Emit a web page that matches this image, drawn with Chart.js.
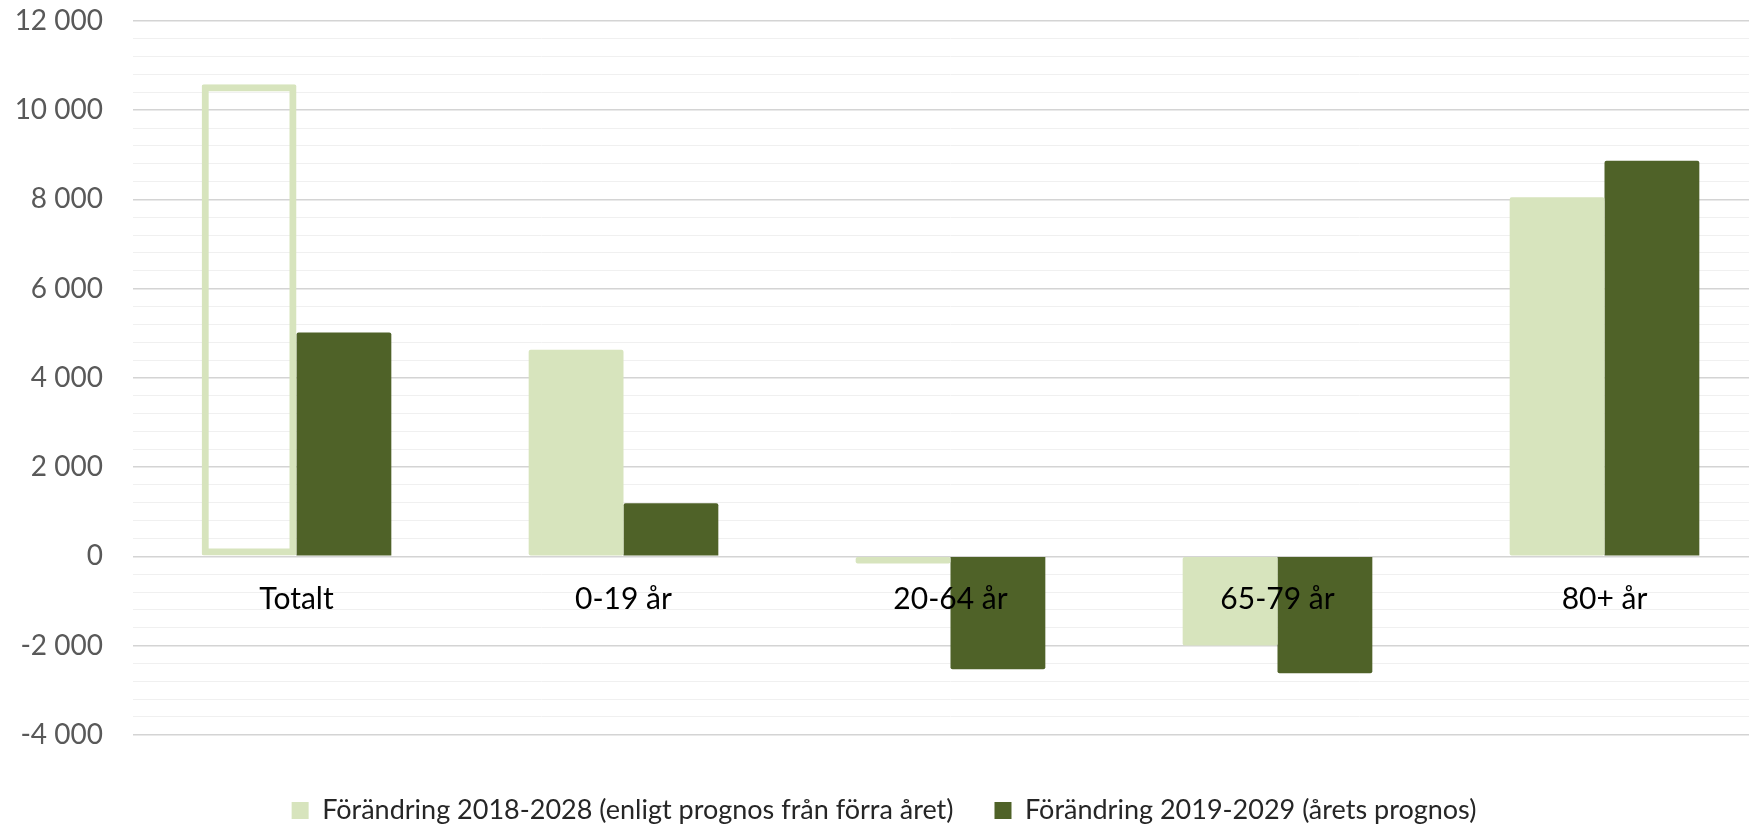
<!DOCTYPE html>
<html>
<head>
<meta charset="utf-8">
<script src="https://cdn.jsdelivr.net/npm/chart.js@4/dist/chart.umd.min.js"></script>
<style>
  html, body { margin: 0; padding: 0; background: #fff; overflow: hidden; }
  #wrap { width: 1749px; height: 826px; overflow: hidden; position: relative; }
  canvas { display: block; }
</style>
</head>
<body>
<div id="wrap"><canvas id="c" width="1768" height="826"></canvas></div>
<script>
const categories = ["Totalt", "0-19 år", "20-64 år", "65-79 år", "80+ år"];
const seriesNames = ["Förändring 2018-2028 (enligt prognos från förra året)", "Förändring 2019-2029 (årets prognos)"];
const prev2018_2028 = [10580, 4630, -160, -2000, 8050];
const curr2019_2029 = [5020, 1190, -2530, -2620, 8870];
const yMin = -4000, yMax = 12000, yMajor = 2000, yMinor = 400;

const LIGHT = "#d7e4bd", DARK = "#4f6228";

function fmt(v) {
  const s = Math.abs(v).toString().replace(/\B(?=(\d{3})+(?!\d))/g, " ");
  return (v < 0 ? "-" : "") + s;
}

new Chart(document.getElementById("c"), {
  type: "bar",
  data: {
    labels: categories,
    datasets: [
      {
        label: seriesNames[0],
        data: prev2018_2028,
        backgroundColor: prev2018_2028.map((v, i) => i === 0 ? "rgba(255,255,255,0)" : LIGHT),
        borderColor: LIGHT,
        borderWidth: prev2018_2028.map((v, i) => i === 0 ? 7 : 0),
        borderSkipped: false,
        borderRadius: 2,
        categoryPercentage: 0.58,
        barPercentage: 1.0
      },
      {
        label: seriesNames[1],
        data: curr2019_2029,
        backgroundColor: DARK,
        borderWidth: 0,
        borderRadius: 2,
        categoryPercentage: 0.58,
        barPercentage: 1.0
      }
    ]
  },
  options: {
    responsive: false,
    animation: false,
    layout: { padding: { top: 21, left: 0, right: 0, bottom: -8 } },
    plugins: {
      tooltip: { enabled: false },
      legend: {
        position: "bottom",
        title: { display: true, text: "", font: { size: 1 }, padding: { top: 20, bottom: 0 } },
        labels: {
          font: { family: "Lato", size: 27 },
          color: "#262626",
          boxWidth: 17,
          boxHeight: 17,
          padding: 41,
          generateLabels: (chart) => chart.data.datasets.map((ds, i) => ({
            text: ds.label,
            fillStyle: i === 0 ? LIGHT : DARK,
            strokeStyle: i === 0 ? LIGHT : DARK,
            lineWidth: 0,
            hidden: false,
            datasetIndex: i,
            fontColor: "#262626"
          }))
        }
      }
    },
    scales: {
      x: {
        position: { y: 0 },
        grid: { display: false },
        border: { display: false },
        afterFit: (s) => { s.paddingLeft = 0; s.paddingRight = 0; },
        ticks: { z: 1, font: { family: "Lato", size: 30 }, color: "#000000", padding: 17, maxRotation: 0 }
      },
      y: {
        min: yMin,
        max: yMax,
        afterFit: (s) => { s.width = 133; s.paddingTop = 0; s.paddingBottom = 0; },
        border: { display: false },
        grid: {
          drawTicks: false,
          color: (ctx) => (ctx.tick && ctx.tick.value % yMajor === 0) ? "#d4d4d4" : "#f0f0f0",
          lineWidth: (ctx) => (ctx.tick && ctx.tick.value % yMajor === 0) ? 1.5 : 1
        },
        ticks: {
          stepSize: yMinor,
          autoSkip: false,
          padding: 30,
          font: { family: "Lato", size: 28 },
          color: "#595959",
          callback: (v) => (v % yMajor === 0) ? fmt(v) : ""
        }
      }
    }
  }
});
</script>
</body>
</html>
